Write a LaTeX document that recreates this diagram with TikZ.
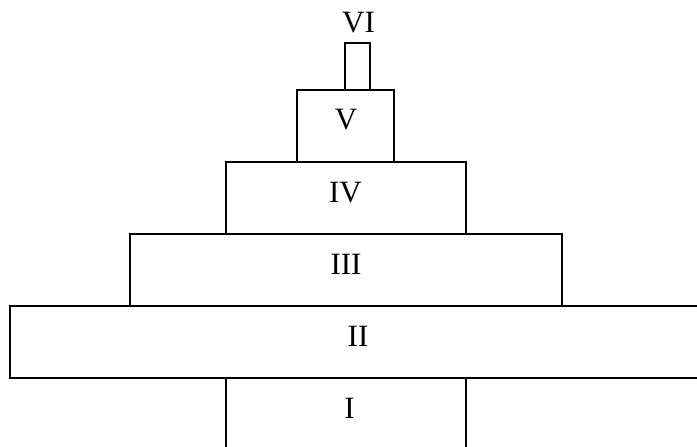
\documentclass[tikz,border=0pt]{standalone}
\usepackage{fontspec}
\setmainfont{Liberation Serif}
\begin{document}
\begin{tikzpicture}[x=1pt,y=-1pt,
  tier/.style={draw=black,line width=1.6pt},
  lbl/.style={font=\fontsize{31}{31}\selectfont,inner sep=0pt,anchor=center}]
\useasboundingbox (0,0) rectangle (697,447);
\clip (0,0) rectangle (697,447);
\fill[white] (0,0) rectangle (697,447);
% tiers
\draw[tier] (226,378) rectangle (466,460);
\draw[tier] (10,306) rectangle (710,378);
\draw[tier] (130,234) rectangle (562,306);
\draw[tier] (226,162) rectangle (466,234);
\draw[tier] (297,90) rectangle (394,162);
\draw[tier] (345,43) rectangle (370,90);
% labels
\node[lbl] (l1) at (349.5,408) {I};
\node[lbl] (l2) at (358,336) {II};
\node[lbl] (l3) at (346,264) {III};
\node[lbl] (l4) at (345.5,192.5) {IV};
\node[lbl] (l5) at (346,120) {V};
\node[lbl] (l6) at (358.5,23) {VI};
\end{tikzpicture}
\end{document}
